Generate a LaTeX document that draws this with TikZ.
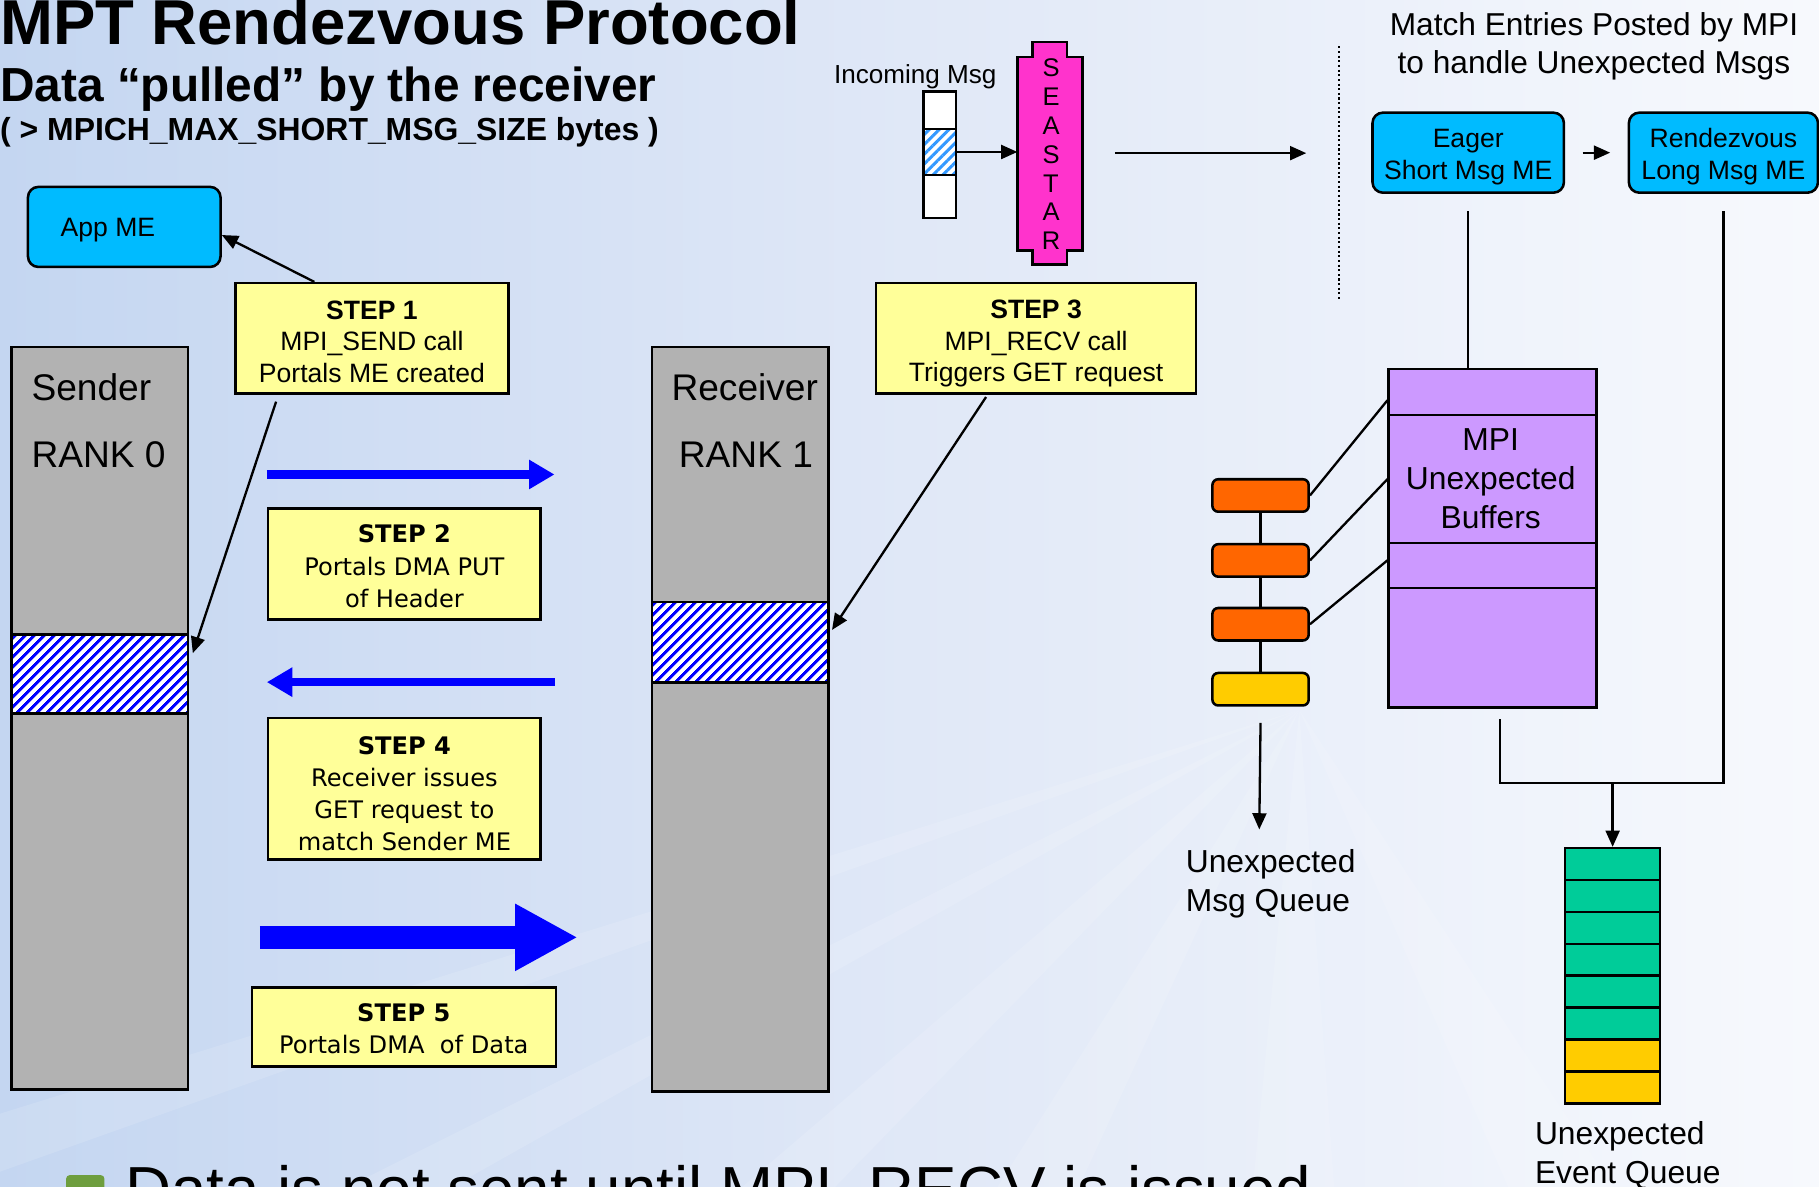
\documentclass[tikz,border=0pt]{standalone}
\usepackage{fontspec}
\setmainfont{Liberation Sans}
\newfontfamily\dvfont{DejaVu Sans}
\usetikzlibrary{arrows.meta,patterns.meta,calc}

\definecolor{bgL}{RGB}{196,214,241}
\definecolor{bgM}{RGB}{224,232,247}
\definecolor{bgR}{RGB}{247,249,253}
\definecolor{colgray}{RGB}{178,178,178}
\definecolor{stepyel}{RGB}{255,255,153}
\definecolor{mecyan}{RGB}{0,187,255}
\definecolor{seapink}{RGB}{255,51,204}
\definecolor{lav}{RGB}{204,153,255}
\definecolor{qorange}{RGB}{255,102,0}
\definecolor{qyellow}{RGB}{255,204,0}
\definecolor{qgreen}{RGB}{0,204,153}
\definecolor{bulgreen}{RGB}{110,158,62}
\definecolor{hatchlight}{RGB}{51,153,255}

\newcommand{\fs}[2]{\fontsize{#1}{#2}\selectfont}

\begin{document}
\begin{tikzpicture}[x=1pt,y=-1pt,
 box/.style={draw=black, line width=2.2pt, inner sep=0pt, anchor=north west},
 stepbox/.style={box, fill=stepyel},
 steptxt/.style={inner sep=0pt, align=center, font=\fs{22.9}{27.5}},
 steptxtd/.style={inner sep=0pt, align=center, font=\dvfont\fs{20.8}{27.7}},
 mebox/.style={box, fill=mecyan, rounded corners=9pt},
 metxt/.style={inner sep=0pt, align=center, font=\fs{22.9}{28}},
 col/.style={box, fill=colgray},
 hatch/.style={box, preaction={fill=white}, preaction={pattern={Lines[angle=45,distance=6.5pt,line width=3pt]}, pattern color=blue}},
 hatchl/.style={box, preaction={fill=white}, preaction={pattern={Lines[angle=45,distance=6pt,line width=2.6pt]}, pattern color=hatchlight}},
 conn/.style={line width=2pt},
 arr/.style={conn, -{Triangle[length=14pt,width=12pt]}},
 blu/.style={draw=blue, line width=7pt, -{Triangle[length=22pt,width=24pt]}},
 qbox/.style={box, rounded corners=5pt, minimum width=83pt, minimum height=28pt},
 gbox/.style={box, minimum width=82pt, minimum height=27.5pt},
 lbl/.style={inner sep=0pt, align=center},
 ray/.style={fill=white, opacity=0.13},
]
\useasboundingbox (0,0) rectangle (1568,1023);
\shade[left color=bgL, right color=bgR, middle color=bgM] (0,0) rectangle (1568,1023);

% faint background rays
\coordinate (F) at (1120,612);
\fill[ray] (F) -- (640,1023) -- (720,1023) -- cycle;
\fill[ray] (F) -- (860,1023) -- (930,1023) -- cycle;
\fill[ray] (F) -- (1080,1023) -- (1150,1023) -- cycle;
\fill[ray] (F) -- (1300,1023) -- (1390,1023) -- cycle;
\fill[ray] (F) -- (0,1010) -- (0,960) -- cycle;
\fill[ray] (F) -- (300,1023) -- (390,1023) -- cycle;

% titles
\node[lbl, anchor=base west, font=\bfseries\fs{54.7}{60}] (title) at (0,38) {MPT Rendezvous Protocol};
\node[lbl, anchor=base west, font=\bfseries\fs{41.2}{48}] (sub) at (0,87.5) {Data “pulled” by the receiver};
\node[lbl, anchor=base west, font=\bfseries\fs{27.5}{33}] (sub2) at (0,121) {( > MPICH\_MAX\_SHORT\_MSG\_SIZE bytes )};

% columns
\node[col, minimum width=152pt, minimum height=640pt] (sender) at (9,298) {};
\node[hatch, minimum width=152pt, minimum height=68pt] (shatch) at (9,546) {};
\node[col, minimum width=152pt, minimum height=642pt] (receiver) at (561,298) {};
\node[hatch, minimum width=152pt, minimum height=69pt] (rhatch) at (561,518) {};
\node[lbl, anchor=west, font=\fs{32}{38}] (sendertxt) at (27,334) {Sender};
\node[lbl, anchor=west, font=\fs{32}{38}] (rank0) at (27,392) {RANK 0};
\node[lbl, font=\fs{32}{38}] (recvtxt) at (642,334) {Receiver};
\node[lbl, font=\fs{32}{38}] (rank1) at (643,392) {RANK 1};

% App ME and steps
\node[mebox, minimum width=166pt, minimum height=69pt] (appme) at (23,160) {};
\node[metxt] (appmetxt) at (93,198) {App ME};
\node[stepbox, minimum width=235pt, minimum height=95pt] (step1) at (202,243) {};
\node[steptxt] (step1txt) at ($(step1.center)+(0,3)$) {\textbf{STEP 1}\\MPI\_SEND call\\Portals ME created};
\node[stepbox, minimum width=276pt, minimum height=95pt] (step3) at (754,243) {};
\node[steptxt] (step3txt) at ($(step3.center)+(0,4.5)$) {\textbf{STEP 3}\\MPI\_RECV call\\Triggers GET request};
\node[stepbox, minimum width=235pt, minimum height=96pt] (step2) at (230,437) {};
\node[steptxtd] (step2txt) at ($(step2.center)+(0,2)$) {\textbf{STEP 2}\\Portals DMA PUT\\of Header};
\node[stepbox, minimum width=235pt, minimum height=122pt] (step4) at (230,618) {};
\node[steptxtd] (step4txt) at ($(step4.center)+(0,4)$) {\textbf{STEP 4}\\Receiver issues\\GET request to\\match Sender ME};
\node[stepbox, minimum width=262pt, minimum height=68pt] (step5) at (216,850) {};
\node[steptxtd] (step5txt) at ($(step5.center)+(0,2)$) {\textbf{STEP 5}\\Portals DMA\ \ of Data};

\draw[arr] ($(step1.north west)+(69,0)$) -- ($(appme.east)+(0,7)$);
\draw[arr] ($(step1.south west)+(36,6)$) -- ($(shatch.north east)+(3,17)$);
\draw[arr] ($(step3.south west)+(96,2)$) -- ($(rhatch.north east)+(2,25)$);

% blue arrows
\coordinate (b1s) at (230,409); \coordinate (b1e) at (478,409);
\coordinate (b2s) at (478,588); \coordinate (b2e) at (230,588);
\coordinate (b3s) at (224,808); \coordinate (b3e) at (498,808);
\draw[blu] (b1s) -- (b1e);
\draw[blu] (b2s) -- (b2e);
\draw[draw=blue, line width=20pt, -{Triangle[length=54pt,width=54pt]}] (b3s) -- (b3e);

% incoming msg + seastar
\node[lbl, anchor=base, font=\fs{22.5}{27}] (inlbl) at (789,72) {Incoming Msg};
\node[box, line width=2pt, fill=white, minimum width=28pt, minimum height=32pt] (in1) at (795,78) {};
\node[hatchl, line width=2pt, minimum width=28pt, minimum height=40pt] (inmsg) at (795,110) {};
\node[box, line width=2pt, fill=white, minimum width=28pt, minimum height=37pt] (in3) at (795,150) {};
\filldraw[fill=seapink, draw=black, line width=2pt] (877,49) -- (890,49) -- (890,36) -- (920,36) -- (920,49) -- (933,49) -- (933,216) -- (920,216) -- (920,228) -- (890,228) -- (890,216) -- (877,216) -- cycle;
\node[inner sep=0pt, minimum width=56pt, minimum height=167pt, anchor=north west] (seastar) at (877,49) {};
\node[lbl, font=\fs{22}{24.9}] (seatxt) at (906,133) {S\\E\\A\\S\\T\\A\\R};
\draw[arr] (inmsg.east) -- (inmsg.east -| seastar.west);

\coordinate (la1) at (961,132); \coordinate (la2) at (1126,132);
\draw[arr] (la1) -- (la2);
\coordinate (dt1) at (1154,40); \coordinate (dt2) at (1154,258);
\draw[line width=1.8pt, dash pattern=on 1.8pt off 2.2pt] (dt1) -- (dt2);

% match entries
\node[lbl, font=\fs{27.3}{33}] (matchlbl) at (1374,40) {Match Entries Posted by MPI\\to handle Unexpected Msgs};
\node[mebox, minimum width=165pt, minimum height=69pt] (eager) at (1182,96) {};
\node[metxt] (eagertxt) at ($(eager.center)+(0,4)$) {Eager\\Short Msg ME};
\node[mebox, minimum width=163pt, minimum height=69pt] (rdv) at (1403,96) {};
\node[metxt] (rdvtxt) at ($(rdv.center)+(0,3.5)$) {Rendezvous\\Long Msg ME};
\draw[arr] ($(eager.east)+(15,0)$) -- ($(rdv.west)+(-15,0)$);

% buffers
\node[box, fill=lav, minimum width=179pt, minimum height=292pt] (buf) at (1196,317) {};
\draw[conn] ($(buf.north west)+(0,41)$) -- ($(buf.north east)+(0,41)$);
\draw[conn] ($(buf.north west)+(0,151)$) -- ($(buf.north east)+(0,151)$);
\draw[conn] ($(buf.north west)+(0,190)$) -- ($(buf.north east)+(0,190)$);
\node[lbl, font=\fs{27.4}{33.5}] (buftxt) at (1285,412.5) {MPI\\Unexpected\\Buffers};
\draw[conn] ($(eager.south)+(0,15)$) -- (eager.south |- buf.north);

\coordinate (j1) at (1485,675); \coordinate (j2) at (1293,675); \coordinate (j3) at (1293,620);
\draw[conn] ($(rdv.south)+(0,15)$) -- (rdv.south |- j1) -- (j2) -- (j3);

% unexpected msg queue
\node[qbox, fill=qorange] (q1) at (1044,412) {};
\node[qbox, fill=qorange] (q2) at (1044,468) {};
\node[qbox, fill=qorange] (q3) at (1044,523) {};
\node[qbox, fill=qyellow] (q4) at (1044,579) {};
\draw[conn] (q1.south) -- (q2.north);
\draw[conn] (q2.south) -- (q3.north);
\draw[conn] (q3.south) -- (q4.north);
\draw[conn] (q1.east) -- ($(buf.north west)+(0,28)$);
\draw[conn] (q2.east) -- ($(buf.north west)+(0,96)$);
\draw[conn] (q3.east) -- ($(buf.north west)+(0,166)$);
\coordinate (umq) at (1085.5,715);
\draw[arr] ($(q4.south)+(0,14)$) -- (umq);
\node[lbl, anchor=west, align=left, font=\fs{27.4}{33.5}] (umqtxt) at (1022,762) {Unexpected\\Msg Queue};

% event queue
\foreach \i/\c in {1/qgreen,2/qgreen,3/qgreen,4/qgreen,5/qgreen,6/qgreen,7/qyellow,8/qyellow}{
  \node[gbox, fill=\c] (qg\i) at (1348,{730+27.5*(\i-1)}) {};
}
\draw[arr] (qg1.north |- j1) -- (qg1.north);
\node[lbl, anchor=west, align=left, font=\fs{27.4}{33.5}] (ueqtxt) at (1323,996) {Unexpected\\Event Queue};

% bottom bullet
\fill[bulgreen, rounded corners=3pt] (57,1013) rectangle (90,1046);
\node[lbl, anchor=base west, font=\fs{54.9}{60}] (bottomtxt) at (108,1044) {Data is not sent until MPI\_RECV is issued};
\end{tikzpicture}
\end{document}
